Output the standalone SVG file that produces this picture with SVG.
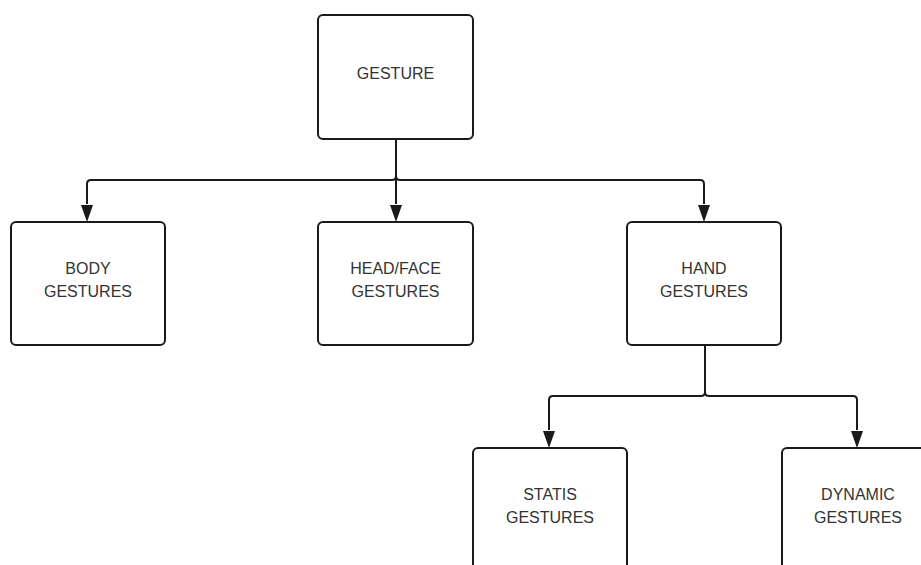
<svg xmlns="http://www.w3.org/2000/svg" width="921" height="565" viewBox="0 0 921 565">
<defs>
<style>
.box{fill:#fff;stroke:#1a1a1a;stroke-width:2}
.lbl{font-family:"Liberation Sans",Arial,sans-serif;font-size:16px;fill:#333;text-anchor:middle}
.con{fill:none;stroke:#1a1a1a;stroke-width:2}
</style>
<marker id="arr" viewBox="0 0 12 17" refX="6" refY="17" markerWidth="12" markerHeight="17" markerUnits="userSpaceOnUse" orient="auto-start-reverse">
<path d="M0 0 L12 0 L6 17 Z" fill="#1a1a1a"/>
</marker>
</defs>
<rect width="921" height="565" fill="#fff"/>
<g id="connectors">
<path class="con" d="M396 139 V176 Q396 180 392 180 H91 Q87 180 87 184 V204"/>
<path class="con" d="M396 139 V204"/>
<path class="con" d="M396 139 V176 Q396 180 400 180 H700 Q704 180 704 184 V204"/>
<path class="con" d="M705 345 V392 Q705 396 701 396 H553 Q549 396 549 400 V430"/>
<path class="con" d="M705 345 V392 Q705 396 709 396 H853 Q857 396 857 400 V430"/>
<path d="M81 205 L93 205 L87 222 Z M390 205 L402 205 L396 222 Z M698 205 L710 205 L704 222 Z M543 431 L555 431 L549 448 Z M851 431 L863 431 L857 448 Z" fill="#1a1a1a"/>
</g>
<g id="gesture">
<rect class="box" x="318" y="15" width="155" height="124" rx="5"/>
<text class="lbl" x="395.5" y="79">GESTURE</text>
</g>
<g id="body">
<rect class="box" x="11" y="222" width="154" height="123" rx="5"/>
<text class="lbl" x="88" y="274">BODY</text>
<text class="lbl" x="88" y="297">GESTURES</text>
</g>
<g id="headface">
<rect class="box" x="318" y="222" width="155" height="123" rx="5"/>
<text class="lbl" x="395.5" y="274">HEAD/FACE</text>
<text class="lbl" x="395.5" y="297">GESTURES</text>
</g>
<g id="hand">
<rect class="box" x="627" y="222" width="154" height="123" rx="5"/>
<text class="lbl" x="704" y="274">HAND</text>
<text class="lbl" x="704" y="297">GESTURES</text>
</g>
<g id="statis">
<rect class="box" x="473" y="448" width="154" height="130" rx="5"/>
<text class="lbl" x="550" y="500">STATIS</text>
<text class="lbl" x="550" y="523">GESTURES</text>
</g>
<g id="dynamic">
<rect class="box" x="782" y="448" width="154" height="130" rx="5"/>
<text class="lbl" x="858" y="500">DYNAMIC</text>
<text class="lbl" x="858" y="523">GESTURES</text>
</g>
</svg>
